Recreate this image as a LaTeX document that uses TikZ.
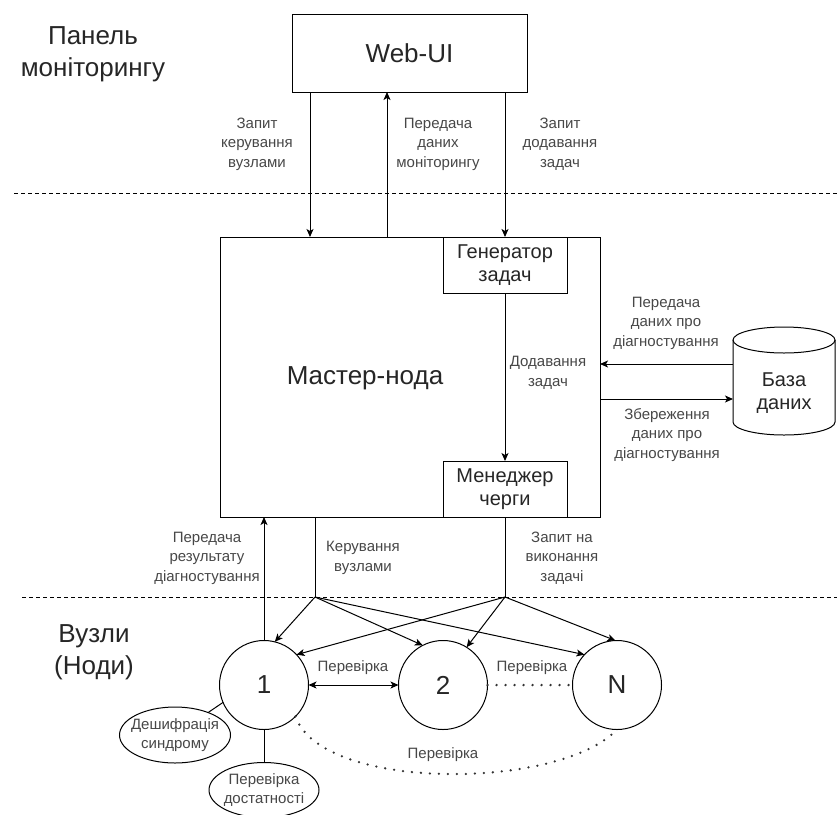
\documentclass[tikz,border=0pt]{standalone}
\usepackage{fontspec}
\setmainfont{Liberation Sans}
\usetikzlibrary{arrows.meta,shapes.geometric}
\begin{document}
\begin{tikzpicture}[x=0.75pt,y=-0.75pt,
  line width=0.75pt,
  every node/.style={inner sep=0pt,outer sep=0pt,text=black!85},
  box/.style={draw,rectangle,fill=white},
  big/.style={font=\fontsize{19.5}{24}\selectfont,align=center},
  mid/.style={font=\fontsize{15}{17.5}\selectfont,align=center},
  lbl/.style={font=\fontsize{11.25}{14.6}\selectfont,align=center,text=black!72},
  arr/.style={-{Stealth[length=6pt,width=5.25pt,inset=1.5pt]}},
  darr/.style={{Stealth[length=6pt,width=5.25pt,inset=1.5pt]}-{Stealth[length=6pt,width=5.25pt,inset=1.5pt]}},
  divider/.style={line width=0.6pt,dash pattern=on 3pt off 2.25pt},
  dotline/.style={line width=1.9pt,line cap=round,dash pattern=on 0pt off 6.75pt,draw=black!80},
  nodecirc/.style={draw,circle,fill=white,minimum size=66.75pt,big},
  taskell/.style={draw,ellipse,fill=white}
]
\useasboundingbox (0,0) rectangle (837,814);

% layer separators
\draw[divider] (14,193) -- (837,193);
\draw[divider] (22,597) -- (837,597);

% layer titles
\node[big] (tpanel) at (93,54) {Панель\\моніторингу};
\node[big] (tnodes) at (94,652) {Вузли\\(Ноди)};

% web interface
\node[box,minimum width=176.25pt,minimum height=58.5pt,big] (web) at (409.5,53) {Web-UI};

% master node with its inner blocks
\node[box,minimum width=285pt,minimum height=210pt] (master) at (410,377) {};
\node[big] (mtxt) at (365,378) {Мастер-нода};
\node[box,minimum width=93pt,minimum height=42pt,mid] (gen) at (505,265) {Генератор\\задач};
\node[box,minimum width=93pt,minimum height=42pt,mid] (mgr) at (505,489) {Менеджер\\черги};

% database cylinder
\node[minimum width=76.5pt,minimum height=81pt] (db) at (784,381) {};
\filldraw[fill=white] (733,340) -- (733,422)
  arc[start angle=180,end angle=360,x radius=38.25pt,y radius=9.75pt] -- (835,340);
\draw (784,340) ellipse [x radius=38.25pt,y radius=9.75pt];
\node[mid] (dbt) at (784,393) {База\\даних};

% web <-> master
\draw[arr] (web.south -| 310,0) -- (master.north -| 310,0);
\node[lbl] (l1) at (257,144) {Запит\\керування\\вузлами};
\draw[arr] (master.north -| 387,0) -- (web.south -| 387,0);
\node[lbl] (l2) at (438,144) {Передача\\даних\\моніторингу};
\draw[arr] (web.south -| gen.north) -- (gen.north);
\node[lbl] (l3) at (560,144) {Запит\\додавання\\задач};

% generator -> queue manager
\draw[arr] (gen.south) -- (mgr.north);
\node[lbl] (l4) at (548,373) {Додавання\\задач};

% master <-> database
\draw[arr] (db.west |- 0,364) -- (master.east |- 0,364);
\node[lbl] (l5) at (666,323) {Передача\\даних про\\діагностування};
\draw[arr] (master.east |- 0,399) -- (db.west |- 0,399);
\node[lbl] (l6) at (667,435) {Збереження\\даних про\\діагностування};

% worker nodes
\node[nodecirc] (n1) at (264,685) {1};
\node[nodecirc] (n2) at (443,685) {2};
\node[nodecirc] (nN) at (617,685) {N};

\node[taskell,minimum width=83.25pt,minimum height=42pt,
  label={[lbl]center:Дешифрація\\синдрому}] (e1) at (175,735) {};
\node[taskell,minimum width=82.5pt,minimum height=41.25pt,
  label={[lbl]center:Перевірка\\достатності}] (e2) at (264,790) {};
\draw (n1.203) -- (e1);
\draw (n1.south) -- (e2.north);

% distribution points below the master node
\coordinate (A) at (315,597);
\coordinate (B) at (505,597);
\draw (A |- master.south) -- (A);
\draw (mgr.south) -- (B);
\node[lbl] (l7) at (363,558) {Керування\\вузлами};
\node[lbl] (l8) at (562,558) {Запит на\\виконання\\задачі};

\draw[arr] (A) -- (n1.76);
\draw[arr] (A) -- (n2.117);
\draw[arr] (A) -- (nN.137);
\draw[arr] (B) -- (n1.43);
\draw[arr] (B) -- (n2.58);
\draw[arr] (B) -- (nN.92);

% results back to master
\draw[arr] (n1.north) -- (n1.north |- master.south);
\node[lbl] (l9) at (207,558) {Передача\\результату\\діагностування};

% checks between nodes
\draw[darr] (n1.east) -- (n2.west);
\node[lbl] (c1) at (353,668) {Перевірка};
\draw[dotline] (n2.east) -- (nN.west);
\node[lbl] (c2) at (532,668) {Перевірка};
\draw[dotline] (n1.-45) .. controls (322,792) and (560,790) .. (nN.south);
\node[lbl] (c3) at (443,755) {Перевірка};
\end{tikzpicture}
\end{document}
